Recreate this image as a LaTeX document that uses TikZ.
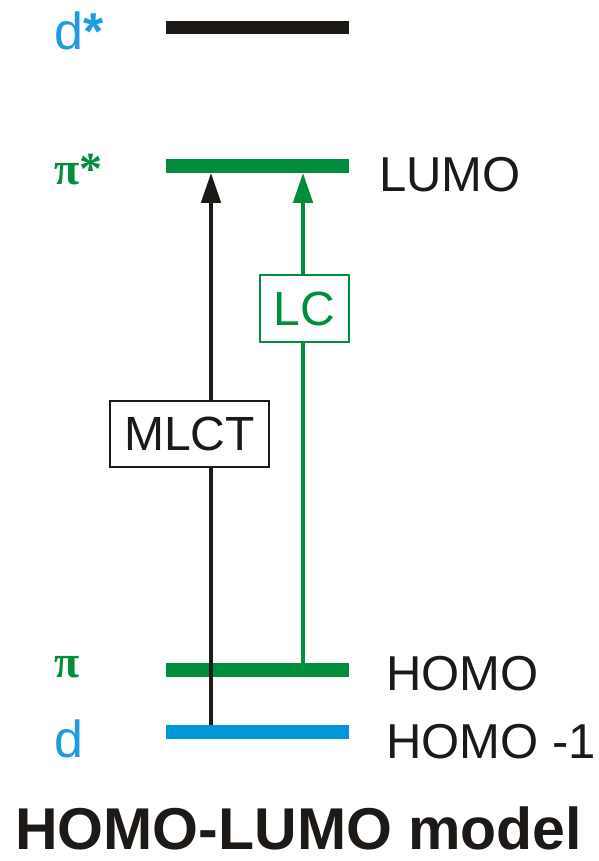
\documentclass[tikz,border=0pt]{standalone}
\usepackage{fontspec}
\setmainfont{Liberation Sans}
\newfontfamily\greekfont{Liberation Serif}
\usetikzlibrary{arrows.meta,calc}
\definecolor{mogreen}{RGB}{0,142,60}
\definecolor{moblue}{RGB}{0,150,220}
\definecolor{lblblue}{RGB}{30,155,225}
\definecolor{moblack}{RGB}{28,25,23}
\tikzset{
  level/.style={draw=none,fill=#1,minimum width=183pt,minimum height=13.5pt,inner sep=0pt,outer sep=0pt},
  lbl/.style={anchor=base west,inner sep=0pt,font=\fontsize{52}{52}\selectfont},
  glbl/.style={anchor=base west,inner sep=0pt,font=\fontsize{46}{46}\selectfont\greekfont\bfseries,text=mogreen},
  orb/.style={anchor=base west,inner sep=0pt,font=\fontsize{49}{49}\selectfont,text=moblack},
  trans/.style={line width=4.5pt,-{Triangle[length=30pt,width=19pt]}},
  tbox/.style={draw=#1,line width=2pt,fill=white,inner sep=0pt,font=\fontsize{48}{48}\selectfont,text=#1},
}
\begin{document}
\begin{tikzpicture}[x=1pt,y=-1pt]
\useasboundingbox (0,0) rectangle (598,861);
% levels
\node[level=moblack] (dstar) at (257.5,27.5) {};
\node[level=mogreen] (pistar) at (257.5,166) {};
\node[level=mogreen] (pi) at (257.5,670) {};
\node[level=moblue] (d) at (257.5,732) {};
% left labels
\node[lbl,text=lblblue] (ldstar) at (54,50) {d{\bfseries *}};
\node[glbl] (lpistar) at (54,185) {π*};
\node[glbl] (lpi) at (54,677) {π};
\node[lbl,text=lblblue] (ld) at (54,757) {d};
% right labels
\node[orb] (lumo) at (379,191) {LUMO};
\node[orb] (homo) at (386,690) {HOMO};
\node[orb] (homo1) at (386,758) {HOMO -1};
% transitions
\coordinate (mlctfoot) at ($(d.north west)+(45,0)$);
\coordinate (lcfoot) at ($(pi.north west)+(137,0)$);
\draw[trans,draw=moblack,fill=moblack] (mlctfoot) -- (mlctfoot |- pistar.south);
\draw[trans,draw=mogreen,fill=mogreen] (lcfoot) -- (lcfoot |- pistar.south);
\node[tbox=moblack,minimum width=159pt,minimum height=66pt] (mlct) at (189.5,434) {MLCT};
\node[tbox=mogreen,minimum width=89pt,minimum height=67pt] (lc) at (304.5,308.5) {LC};
% title
\node[anchor=base west,inner sep=0pt,font=\fontsize{59}{59}\selectfont\bfseries,text=moblack] (title) at (15,849) {HOMO-LUMO model};
\end{tikzpicture}
\end{document}
